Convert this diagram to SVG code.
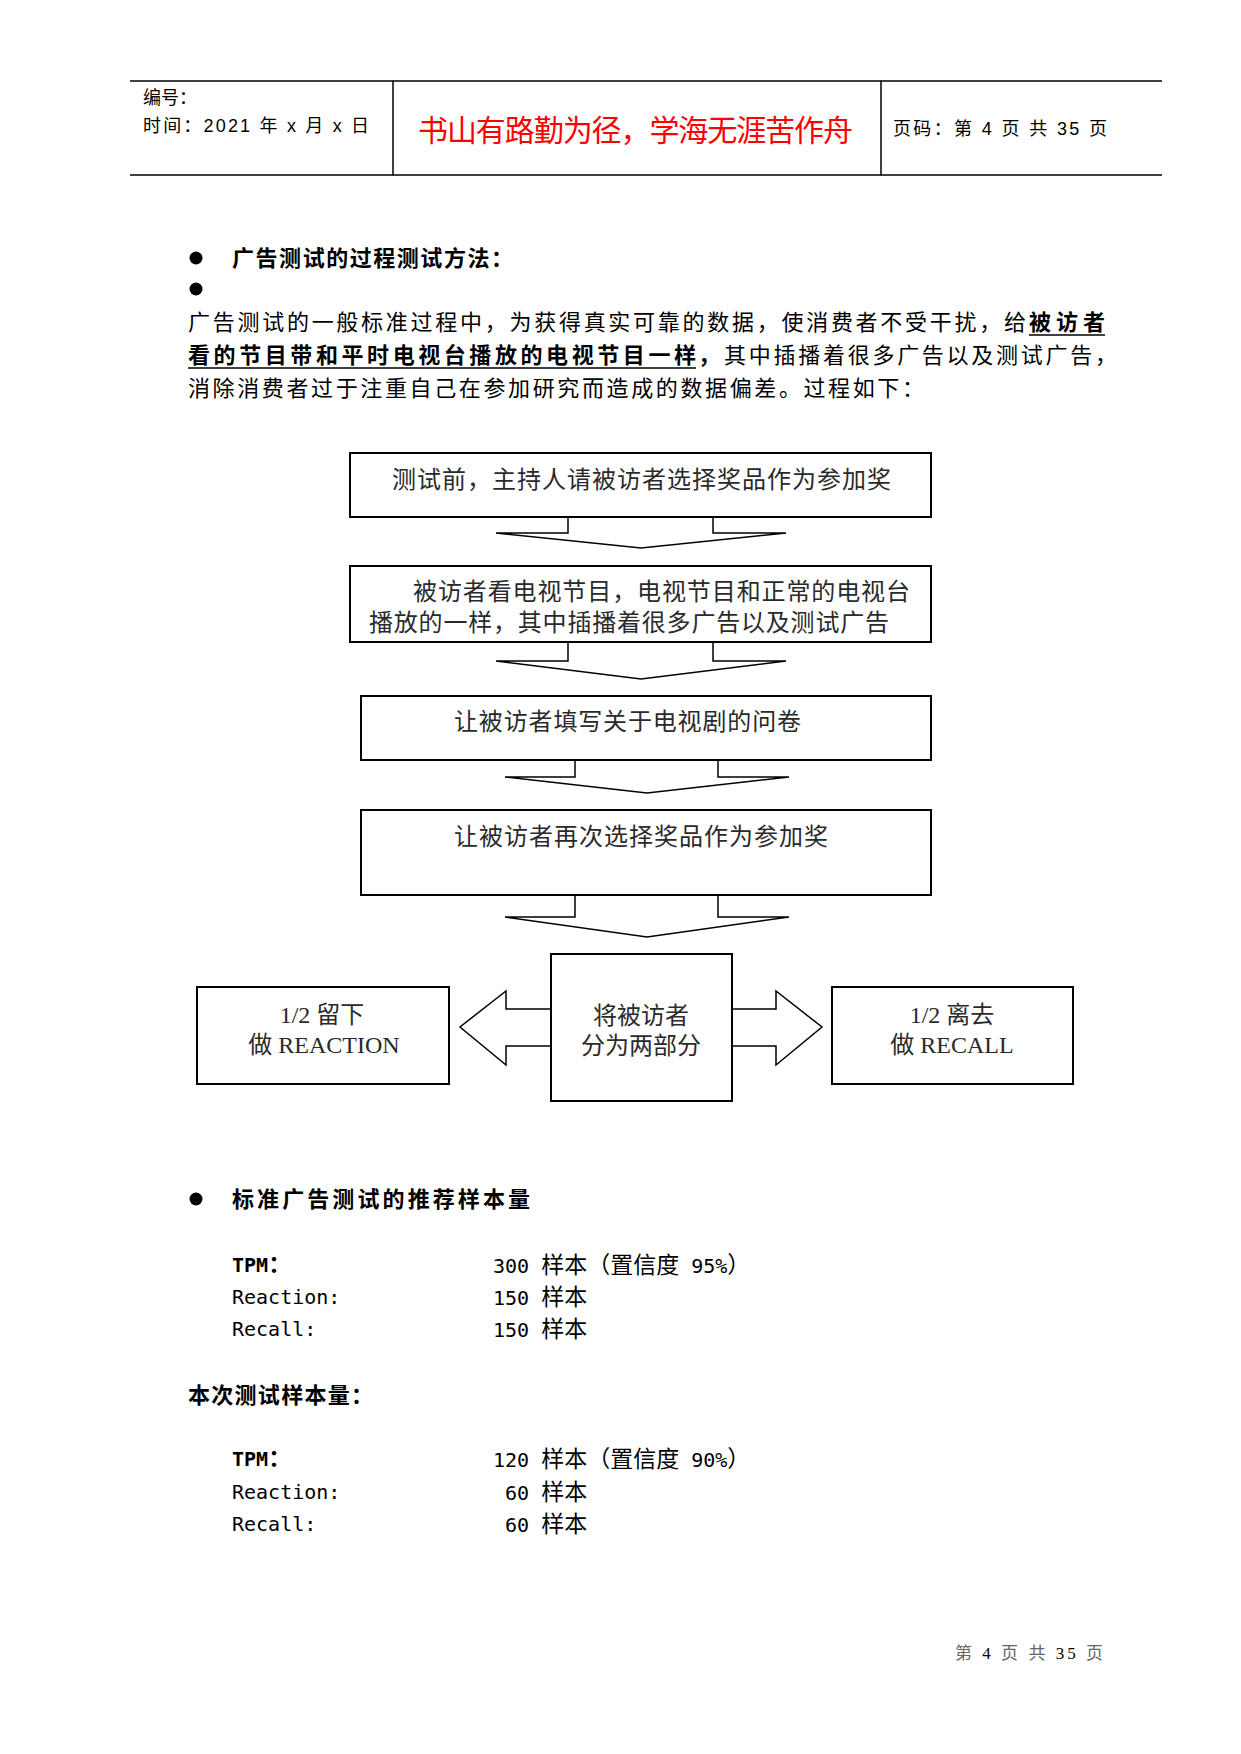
<svg xmlns="http://www.w3.org/2000/svg" width="1241" height="1754" viewBox="0 0 1241 1754">
<style>
.hd{font-family:"Liberation Sans","Noto Sans CJK SC",sans-serif;font-size:18px;fill:#000}
.red{font-family:"Liberation Serif","Noto Sans CJK SC",serif;font-size:30px;fill:#ff0000}
.p{font-family:"Noto Sans CJK SC",sans-serif;font-size:22px;fill:#000}
.b{font-weight:700}
.box{fill:#fff;stroke:#000;stroke-width:2}
.arr{fill:#fff;stroke:#000;stroke-width:1.5;stroke-linejoin:miter}
.bt{font-family:"Liberation Serif","Noto Sans CJK SC",serif;font-size:24px;fill:#2a2a2a}
.mono{font-family:"DejaVu Sans Mono","Noto Sans CJK SC",monospace;font-size:20px;fill:#000}
.cj{font-family:"Noto Sans CJK SC",sans-serif;font-size:23px}
.ft{font-family:"Liberation Serif","Noto Sans CJK SC",serif;font-size:17px;fill:#666}
</style>

<g id="header">
<line x1="130" y1="81" x2="1162" y2="81" stroke="#000" stroke-width="1.5"/>
<line x1="130" y1="175" x2="1162" y2="175" stroke="#000" stroke-width="1.5"/>
<line x1="393" y1="81" x2="393" y2="175" stroke="#000" stroke-width="1.5"/>
<line x1="881" y1="81" x2="881" y2="175" stroke="#000" stroke-width="1.5"/>
<text class="hd" x="143" y="104">编号：</text>
<text class="hd" x="143" y="132" textLength="226" lengthAdjust="spacing">时间：2021 年 x 月 x 日</text>
<text class="red" x="418" y="141" textLength="435" lengthAdjust="spacing">书山有路勤为径，学海无涯苦作舟</text>
<text class="hd" x="893" y="135" textLength="214" lengthAdjust="spacing">页码：第 4 页 共 35 页</text>
</g>

<g id="intro">
<circle cx="196" cy="258" r="6.5" fill="#000"/>
<text class="p b" x="232" y="266" font-size="22" textLength="281" lengthAdjust="spacing">广告测试的过程测试方法：</text>
<circle cx="196" cy="289" r="6.5" fill="#000"/>
<text class="p" x="188" y="330" textLength="838" lengthAdjust="spacing">广告测试的一般标准过程中，为获得真实可靠的数据，使消费者不受干扰，给</text>
<text class="p b" x="1029" y="330" textLength="76" lengthAdjust="spacing">被访者</text>
<line x1="1029" y1="335" x2="1105" y2="335" stroke="#000" stroke-width="1.5"/>
<text class="p b" x="188" y="363" textLength="508" lengthAdjust="spacing">看的节目带和平时电视台播放的电视节目一样</text>
<line x1="188" y1="368" x2="696" y2="368" stroke="#000" stroke-width="1.5"/>
<text class="p b" x="698" y="363">，</text>
<text class="p" x="724" y="363" textLength="393" lengthAdjust="spacing">其中插播着很多广告以及测试广告，</text>
<text class="p" x="188" y="396" textLength="736" lengthAdjust="spacing">消除消费者过于注重自己在参加研究而造成的数据偏差。过程如下：</text>
</g>

<g id="connectors">
<polygon class="arr" points="568,500 568,533 496,533 641,548 786,533 713,533 713,500"/>
<polygon class="arr" points="568,625 568,661 496,661 641,679 786,661 713,661 713,625"/>
<polygon class="arr" points="575,745 575,777 505,777 647,793 789,777 718,777 718,745"/>
<polygon class="arr" points="575,880 575,917 505,917 647,937 789,917 718,917 718,880"/>
<polygon class="arr" points="506,1009 776,1009 776,991 822,1027 776,1065 776,1046 506,1046 506,1065 460,1027 506,991"/>
</g>

<g id="node1">
<rect class="box" x="350" y="453" width="581" height="64"/>
<text class="bt" x="392" y="488" textLength="499" lengthAdjust="spacing">测试前，主持人请被访者选择奖品作为参加奖</text>
</g>
<g id="node2">
<rect class="box" x="350" y="566" width="581" height="76"/>
<text class="bt" x="413" y="600" textLength="497" lengthAdjust="spacing">被访者看电视节目，电视节目和正常的电视台</text>
<text class="bt" x="369" y="631" textLength="520" lengthAdjust="spacing">播放的一样，其中插播着很多广告以及测试广告</text>
</g>
<g id="node3">
<rect class="box" x="361" y="696" width="570" height="64"/>
<text class="bt" x="454" y="730" textLength="347" lengthAdjust="spacing">让被访者填写关于电视剧的问卷</text>
</g>
<g id="node4">
<rect class="box" x="361" y="810" width="570" height="85"/>
<text class="bt" x="454" y="845" textLength="374" lengthAdjust="spacing">让被访者再次选择奖品作为参加奖</text>
</g>
<g id="node5">
<rect class="box" x="551" y="954" width="181" height="147"/>
<text class="bt" x="641" y="1024" text-anchor="middle">将被访者</text>
<text class="bt" x="641" y="1054" text-anchor="middle">分为两部分</text>
</g>
<g id="node6">
<rect class="box" x="197" y="987" width="252" height="97"/>
<text class="bt" x="322" y="1023" text-anchor="middle">1/2 留下</text>
<text class="bt" x="324" y="1053" text-anchor="middle">做 REACTION</text>
</g>
<g id="node7">
<rect class="box" x="832" y="987" width="241" height="97"/>
<text class="bt" x="952" y="1023" text-anchor="middle">1/2 离去</text>
<text class="bt" x="952" y="1053" text-anchor="middle">做 RECALL</text>
</g>

<g id="samples">
<circle cx="196" cy="1199" r="6.5" fill="#000"/>
<text class="p b" x="232" y="1207" textLength="298" lengthAdjust="spacing">标准广告测试的推荐样本量</text>
<text class="mono" x="232" y="1272"><tspan font-weight="700">TPM</tspan><tspan class="cj" font-weight="700">：</tspan></text>
<text class="mono" x="232" y="1304">Reaction:</text>
<text class="mono" x="232" y="1336">Recall:</text>
<text class="mono" x="493" y="1273">300 <tspan class="cj">样本（置信度</tspan> 95%<tspan class="cj">）</tspan></text>
<text class="mono" x="493" y="1305">150 <tspan class="cj">样本</tspan></text>
<text class="mono" x="493" y="1337">150 <tspan class="cj">样本</tspan></text>

<text class="p b" x="188" y="1403" textLength="185" lengthAdjust="spacing">本次测试样本量：</text>
<text class="mono" x="232" y="1466"><tspan font-weight="700">TPM</tspan><tspan class="cj" font-weight="700">：</tspan></text>
<text class="mono" x="232" y="1499">Reaction:</text>
<text class="mono" x="232" y="1531">Recall:</text>
<text class="mono" x="493" y="1467">120 <tspan class="cj">样本（置信度</tspan> 90%<tspan class="cj">）</tspan></text>
<text class="mono" x="505" y="1500">60 <tspan class="cj">样本</tspan></text>
<text class="mono" x="505" y="1532">60 <tspan class="cj">样本</tspan></text>
</g>

<g id="footer">
<text class="ft" x="955" y="1659" textLength="148" lengthAdjust="spacing">第 <tspan fill="#000">4</tspan> 页 共 <tspan fill="#000">35</tspan> 页</text>
</g>
</svg>
